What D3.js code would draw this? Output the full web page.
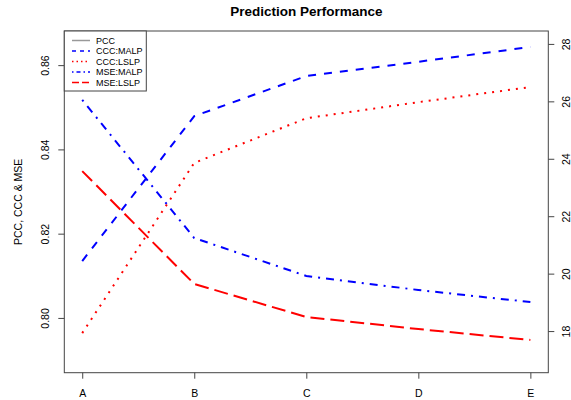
<!DOCTYPE html>
<html>
<head>
<meta charset="utf-8">
<script src="https://cdn.jsdelivr.net/npm/d3@7"></script>
<style>
  body { margin: 0; background: #fff; }
  text { font-family: "Liberation Sans", Arial, Helvetica, sans-serif; fill: #000; }
</style>
</head>
<body>
<svg width="571" height="400"></svg>
<script>
// Data
var categories = ["A", "B", "C", "D", "E"];
var cccMalp = [0.8135, 0.8479, 0.8574, 0.8608, 0.8643];
var cccLslp = [0.7964, 0.8368, 0.8474, 0.8512, 0.8548];
var mseMalp = [26.05, 21.24, 19.92, 19.43, 19.01];
var mseLslp = [23.57, 19.64, 18.49, 18.07, 17.69];
var leftTicks = [0.80, 0.82, 0.84, 0.86];
var rightTicks = [18, 20, 22, 24, 26, 28];
var legendNames = ["PCC", "CCC:MALP", "CCC:LSLP", "MSE:MALP", "MSE:LSLP"];

var svg = d3.select("svg");

// plot region (window.top is reserved, so use own names)
var plotL = 64.3, plotR = 548.3, plotT = 31, plotB = 372.7;

var x = d3.scalePoint()
    .domain(categories)
    .range([plotL, plotR])
    .padding(0.16);

var yL = d3.scaleLinear()
    .domain([0.7870, 0.8681])
    .range([plotB, plotT]);

var yR = d3.scaleLinear()
    .domain([16.55, 28.45])
    .range([plotB, plotT]);

// title
svg.append("text")
    .attr("x", (plotL + plotR) / 2)
    .attr("y", 16)
    .attr("text-anchor", "middle")
    .attr("font-weight", "bold")
    .attr("font-size", "13.5px")
    .text("Prediction Performance");

// series lines
var series = [
  { vals: cccMalp, scale: yL, color: "#0000ff", dash: "8,8" },
  { vals: cccLslp, scale: yL, color: "#ff0000", dash: "2,6" },
  { vals: mseMalp, scale: yR, color: "#0000ff", dash: "2,6,8,6" },
  { vals: mseLslp, scale: yR, color: "#ff0000", dash: "14,6" }
];

series.forEach(function(s) {
  var line = d3.line()
      .x(function(d, i) { return x(categories[i]); })
      .y(function(d) { return s.scale(d); });
  svg.append("path")
      .datum(s.vals)
      .attr("d", line)
      .attr("fill", "none")
      .attr("stroke", s.color)
      .attr("stroke-width", 2)
      .attr("stroke-dasharray", s.dash);
});

// box
svg.append("rect")
    .attr("x", plotL)
    .attr("y", plotT)
    .attr("width", plotR - plotL)
    .attr("height", plotB - plotT)
    .attr("fill", "none")
    .attr("stroke", "#444")
    .attr("stroke-width", 1);

// bottom axis
var gx = svg.append("g")
    .attr("transform", "translate(0," + plotB + ")")
    .call(d3.axisBottom(x).tickSize(6).tickPadding(11));
gx.select(".domain").remove();
gx.selectAll("line").attr("stroke", "#444");
gx.selectAll("text").attr("font-size", "10.5px").attr("font-family", null);

// left axis
var gl = svg.append("g")
    .attr("transform", "translate(" + plotL + ",0)")
    .call(d3.axisLeft(yL).tickValues(leftTicks).tickFormat(d3.format(".2f")).tickSize(6));
gl.select(".domain").remove();
gl.selectAll("line").attr("stroke", "#444");
gl.selectAll("text")
    .attr("font-size", "10.5px")
    .attr("font-family", null)
    .attr("text-anchor", "middle")
    .attr("x", null)
    .attr("dy", null)
    .attr("transform", "translate(-15,0) rotate(-90)");

// right axis
var gr = svg.append("g")
    .attr("transform", "translate(" + plotR + ",0)")
    .call(d3.axisRight(yR).tickValues(rightTicks).tickSize(6));
gr.select(".domain").remove();
gr.selectAll("line").attr("stroke", "#444");
gr.selectAll("text")
    .attr("font-size", "10.5px")
    .attr("font-family", null)
    .attr("text-anchor", "middle")
    .attr("x", null)
    .attr("dy", null)
    .attr("transform", "translate(22,0) rotate(-90)");

// y axis title
svg.append("text")
    .attr("transform", "translate(22," + ((plotT + plotB) / 2) + ") rotate(-90)")
    .attr("text-anchor", "middle")
    .attr("font-size", "10.5px")
    .text("PCC, CCC & MSE");

// legend
var legendStyles = [
  { color: "#999", dash: null },
  { color: "#0000ff", dash: "4,4" },
  { color: "#ff0000", dash: "1.5,3" },
  { color: "#0000ff", dash: "1.5,3,4,3" },
  { color: "#ff0000", dash: "7,3" }
];

var leg = svg.append("g").attr("class", "legend");
leg.append("rect")
    .attr("x", plotL)
    .attr("y", plotT)
    .attr("width", 82)
    .attr("height", 60)
    .attr("fill", "#fff")
    .attr("stroke", "#444")
    .attr("stroke-width", 1);

var rows = leg.selectAll("g.row")
    .data(legendNames)
    .enter().append("g")
    .attr("class", "row")
    .attr("transform", function(d, i) { return "translate(0," + (plotT + 9.5 + i * 10.5) + ")"; });

rows.append("line")
    .attr("x1", 72)
    .attr("x2", 90)
    .attr("stroke", function(d, i) { return legendStyles[i].color; })
    .attr("stroke-width", 1.5)
    .attr("stroke-dasharray", function(d, i) { return legendStyles[i].dash; });

rows.append("text")
    .attr("x", 96)
    .attr("y", 3.2)
    .attr("font-size", "9px")
    .text(function(d) { return d; });
</script>
</body>
</html>
